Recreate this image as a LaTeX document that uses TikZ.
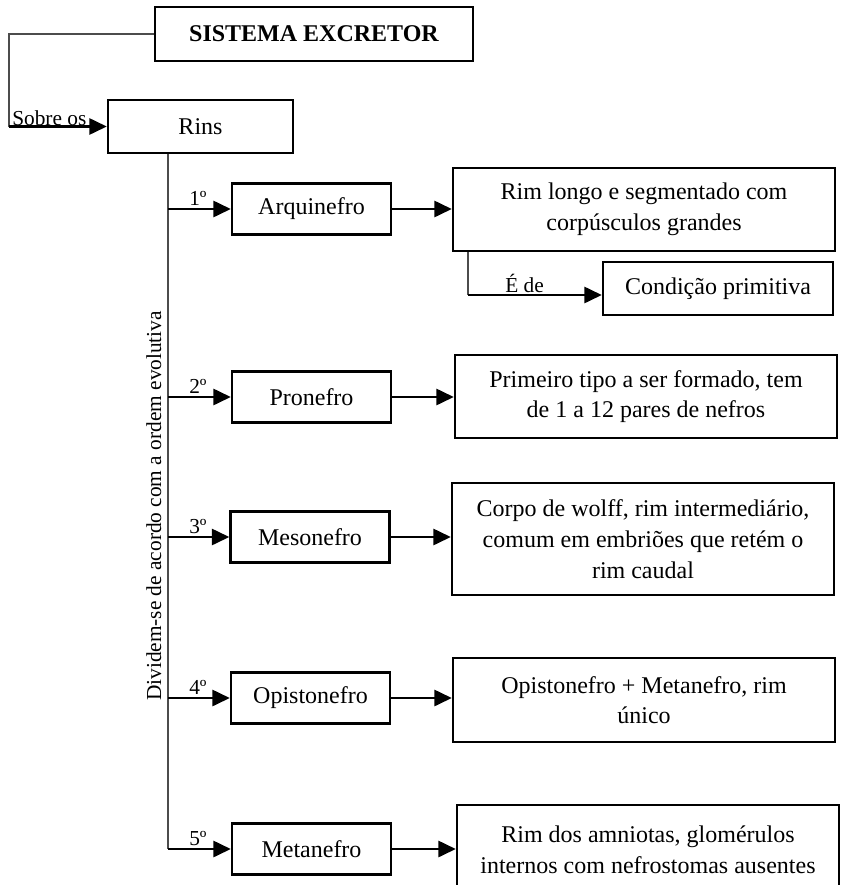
\documentclass[tikz,border=0pt]{standalone}
\usepackage{fontspec}
\setmainfont{Liberation Serif}
\usetikzlibrary{arrows.meta}
\definecolor{linegray}{rgb}{0.3,0.3,0.3}

\begin{document}
\begin{tikzpicture}[x=0.75pt,y=-0.75pt,
  caixa/.style={draw,line width=1.8pt,inner sep=0pt,align=center,font=\fontsize{18}{23}\selectfont},
  nivel/.style={caixa,minimum width=119.25pt,minimum height=38.25pt},
  texto/.style={caixa,minimum width=286.5pt},
  seta/.style={line width=1.9pt,-{Triangle[length=13pt,width=12pt]}},
  fio/.style={linegray,line width=0.8pt},
  rotulo/.style={font=\fontsize{16}{19}\selectfont,inner sep=0pt,anchor=base west}]
\useasboundingbox (0,0) rectangle (842,885);

% topo
\node[caixa,minimum width=238.5pt,minimum height=40.5pt,font=\fontsize{18}{23}\selectfont\bfseries] (titulo) at (314,34) {SISTEMA EXCRETOR};
\node[caixa,minimum width=138.75pt,minimum height=39.75pt] (rins) at (200.5,126.5) {Rins};
\coordinate (sob) at (9,126.5);
\draw[fio] (titulo.west) -| (sob);
\draw[seta] (sob) -- (rins.west);
\node[rotulo] (lsob) at (12,125) {Sobre os};

% tipos de rim
\node[nivel] (arqui) at (311.5,209) {Arquinefro};
\node[nivel] (pro) at (311.5,397) {Pronefro};
\node[nivel] (meso) at (310,537) {Mesonefro};
\node[nivel] (opis) at (310.5,698) {Opistonefro};
\node[nivel] (meta) at (311.5,849) {Metanefro};

\node[texto,minimum height=62.25pt] (d1) at (644,209.5) {Rim longo e segmentado com\\corpúsculos grandes};
\node[caixa,minimum width=172.5pt,minimum height=39.75pt] (cond) at (718,288.5) {Condição primitiva};
\node[texto,minimum height=62.25pt] (d2) at (646,396.5) {Primeiro tipo a ser formado, tem\\de 1 a 12 pares de nefros};
\node[texto,minimum height=84pt] (d3) at (643,539) {Corpo de wolff, rim intermediário,\\comum em embriões que retém o\\rim caudal};
\node[texto,minimum height=63pt] (d4) at (644,700) {Opistonefro + Metanefro, rim\\único};
\node[texto,minimum height=67.5pt] (d5) at (648,850) {Rim dos amniotas, glomérulos\\internos com nefrostomas ausentes};

% tronco
\coordinate (fim) at (168,849);
\draw[fio] (rins.south -| fim) -- (fim);
\node[rotulo,rotate=90,anchor=base] (ordem) at (161,506) {Dividem-se de acordo com a ordem evolutiva};

\draw[seta] (arqui.west -| fim) -- (arqui.west);
\draw[seta] (pro.west -| fim) -- (pro.west);
\draw[seta] (meso.west -| fim) -- (meso.west);
\draw[seta] (opis.west -| fim) -- (opis.west);
\draw[seta] (fim) -- (meta.west);
\node[rotulo] (n1) at (189,205) {1º};
\node[rotulo] (n2) at (189,393) {2º};
\node[rotulo] (n3) at (189,533) {3º};
\node[rotulo] (n4) at (189,694) {4º};
\node[rotulo] (n5) at (189,845) {5º};

% descricoes
\draw[seta] (arqui.east) -- (arqui.east -| d1.west);
\draw[seta] (pro.east) -- (pro.east -| d2.west);
\draw[seta] (meso.east) -- (meso.east -| d3.west);
\draw[seta] (opis.east) -- (opis.east -| d4.west);
\draw[seta] (meta.east) -- (meta.east -| d5.west);

\coordinate (ede) at (468,295);
\draw[fio] (d1.south -| ede) -- (ede);
\draw[seta] (ede) -- (ede -| cond.west);
\node[rotulo] (lede) at (505,292) {É de};
\end{tikzpicture}
\end{document}
